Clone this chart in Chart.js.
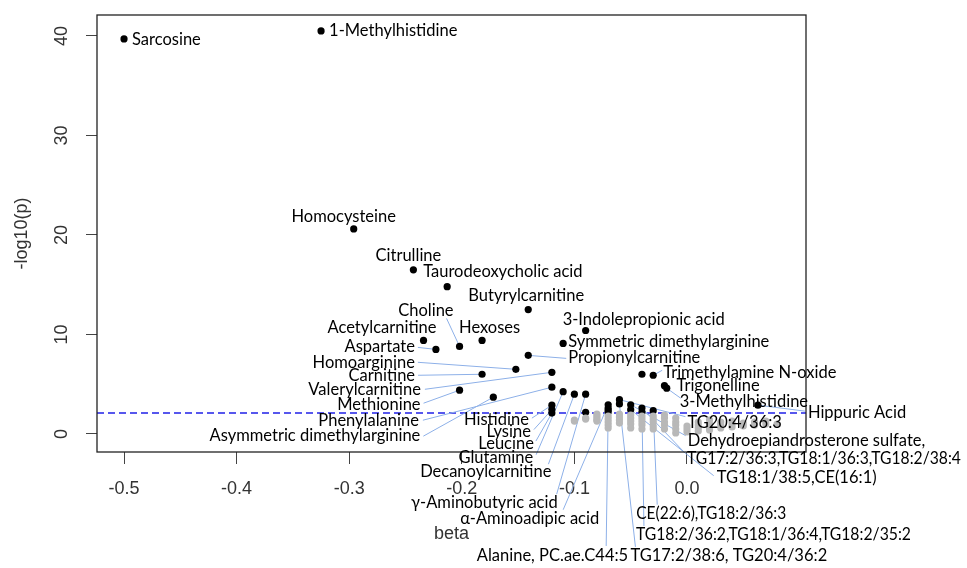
<!DOCTYPE html>
<html>
<head>
<meta charset="utf-8">
<script src="https://cdn.jsdelivr.net/npm/chart.js@4.4.0/dist/chart.umd.min.js"></script>
<style>
  html, body { margin: 0; padding: 0; background: #fff; }
</style>
</head>
<body>
<canvas id="volcano" width="967" height="568"></canvas>
<script>
// significant metabolites (black points)
const sigNames = [
  'Sarcosine', '1-Methylhistidine', 'Homocysteine', 'Citrulline',
  'Taurodeoxycholic acid', 'Butyrylcarnitine', '3-Indolepropionic acid',
  'Choline', 'Hexoses', 'Acetylcarnitine', 'Aspartate',
  'Symmetric dimethylarginine', 'Propionylcarnitine', 'Homoarginine',
  'Carnitine', 'Valerylcarnitine', 'Methionine', 'Phenylalanine',
  'Asymmetric dimethylarginine', 'Histidine', 'Lysine', 'Leucine',
  'Glutamine', 'Decanoylcarnitine', 'γ-Aminobutyric acid', 'α-Aminoadipic acid',
  'Trimethylamine N-oxide', 'Trigonelline', '3-Methylhistidine', 'Hippuric Acid',
  'TG20:4/36:3', 'Dehydroepiandrosterone sulfate,',
  'TG17:2/36:3,TG18:1/36:3,TG18:2/38:4', 'TG18:1/38:5,CE(16:1)',
  'CE(22:6),TG18:2/36:3', 'TG18:2/36:2,TG18:1/36:4,TG18:2/35:2',
  'TG17:2/38:6, TG20:4/36:2', 'Alanine, PC.ae.C44:5',
  '', '', '', ''
]
const sigBeta = [
  -0.50, -0.325, -0.296, -0.243, -0.213, -0.141, -0.090,
  -0.202, -0.182, -0.234, -0.223, -0.110, -0.141, -0.152,
  -0.182, -0.12, -0.202, -0.12, -0.172, -0.12, -0.12, -0.12,
  -0.11, -0.10, -0.09, -0.07, -0.03, -0.02, -0.018, 0.063,
  -0.06, -0.05, -0.04, -0.05, -0.03, -0.04, -0.06, -0.07,
  -0.04, -0.07, -0.07, -0.09
]
const sigLogp = [
  39.7, 40.5, 20.6, 16.5, 14.8, 12.5, 10.4,
  8.8, 9.4, 9.4, 8.5, 9.1, 7.9, 6.5,
  6.0, 6.2, 4.4, 4.7, 3.7, 2.9, 2.45, 2.1,
  4.25, 4.0, 4.0, 2.94, 5.9, 4.85, 4.6, 2.9,
  3.45, 2.94, 2.61, 2.44, 2.34, 2.21, 3.02, 2.21,
  6.0, 2.61, 2.41, 2.18
]

// non-significant metabolites (grey points)
const nsBeta = [
  -0.10, -0.10, -0.09, -0.09,
  -0.08, -0.08, -0.08, -0.08, -0.08,
  -0.07, -0.07, -0.07, -0.07, -0.07,
  -0.06, -0.06, -0.06, -0.06,
  -0.05, -0.05, -0.05, -0.05, -0.05,
  -0.04, -0.04, -0.04, -0.04, -0.04,
  -0.03, -0.03, -0.03, -0.03, -0.03,
  -0.02, -0.02, -0.02, -0.02, -0.02,
  -0.01, -0.01, -0.01, -0.01, -0.01,
  0.00, 0.00, 0.00,
  0.01, 0.01, 0.01, 0.01,
  0.02, 0.02, 0.02, 0.02,
  0.03, 0.03, 0.03,
  0.04, 0.04, 0.04,
  0.05, 0.05, 0.06, 0.06, 0.07, 0.07, 0.08
]
const nsLogp = [
  1.4, 1.3, 1.6, 1.5,
  2.0, 1.8, 1.6, 1.4, 1.3,
  1.8, 1.5, 1.2, 0.9, 0.6,
  2.0, 1.7, 1.4, 1.1,
  1.9, 1.6, 1.3, 1.0, 0.6,
  1.8, 1.5, 1.2, 0.9, 0.5,
  1.8, 1.5, 1.2, 0.8, 0.5,
  1.9, 1.6, 1.2, 0.9, 0.5,
  1.6, 1.2, 0.9, 0.5, 0.1,
  0.8, 0.5, 0.2,
  1.2, 0.9, 0.6, 0.3,
  1.4, 1.0, 0.7, 0.4,
  1.2, 0.9, 0.6,
  1.3, 1.0, 0.7,
  1.1, 0.8, 1.2, 0.9, 1.3, 1.0, 1.0
]

const xTicks = [-0.5, -0.4, -0.3, -0.2, -0.1, 0.0]
const yTicks = [0, 10, 20, 30, 40]
const threshold = 2.1

// label placement relative to its point: [dx, dy, align, leaderDx, leaderDy]
const labelPos = [
  [8, 1, 'left'], [8, 0, 'left'], [-10, -12, 'center'], [-5, -14, 'center'],
  [-24, -15, 'left'], [-2, -14, 'center'], [-23, -11, 'left'],
  [-6, -36, 'right', -13, -28], [-23, -13, 'left'], [13, -13, 'right'],
  [-21, -3, 'right', -18, -2], [5, -2, 'left'], [40, 2, 'left', 38, 3],
  [-101, -7, 'right', -98, -7], [-67, 1, 'right', -64, 1],
  [-131, 17, 'right', -127, 17], [-39, 14, 'right', -36, 13],
  [-133, 33, 'right', -129, 33], [-73, 39, 'right', -70, 39],
  [-23, 15, 'right', -20, 13], [-21, 22, 'right', -18, 20],
  [-18, 31, 'right', -16, 28], [-30, 66, 'right', -27, 63],
  [-23, 77, 'right', -26, 70], [-28, 108, 'right', -29, 100],
  [-9, 114, 'right', -45, 105],
  [10, -3, 'left', 9, -5], [12, 0, 'left'], [13, 13, 'left', 14, 10],
  [50, 8, 'left', 47, 6],
  [68, 23, 'left', 66, 17], [57, 36, 'left', 55, 31], [45, 51, 'left', 43, 45],
  [86, 68, 'left', 83, 66], [-17, 103, 'left', 4, 94], [-6, 123, 'left', 2, 114],
  [11, 152, 'left', 16, 143], [20, 144, 'right', -2, 134]
]
// the long lipid labels are squeezed to the width they take in the original
const labelMaxWidth = { 32: 274, 34: 150, 35: 275 }

const axisColor = '#333'
const tickFont = { family: 'Liberation Sans', size: 18 }

function pointPixels(chart, i) {
  const x = chart.scales.x.getPixelForValue(sigBeta[i])
  const y = chart.scales.y.getPixelForValue(sigLogp[i])
  return [x, y]
}

const annotations = {
  id: 'annotations',
  beforeDatasetsDraw(chart) {
    const { ctx, chartArea, scales } = chart
    ctx.save()
    // significance threshold
    const ty = scales.y.getPixelForValue(threshold)
    ctx.strokeStyle = '#2020e8'
    ctx.lineWidth = 1.5
    ctx.setLineDash([7, 4])
    ctx.beginPath()
    ctx.moveTo(chartArea.left, ty)
    ctx.lineTo(chartArea.right, ty)
    ctx.stroke()
    ctx.setLineDash([])
    // leader lines
    ctx.strokeStyle = '#8db0e8'
    ctx.lineWidth = 1
    labelPos.forEach((p, i) => {
      if (p[3] === undefined) return
      const [x, y] = pointPixels(chart, i)
      ctx.beginPath()
      ctx.moveTo(x, y)
      ctx.lineTo(x + p[3], y + p[4])
      ctx.stroke()
    })
    ctx.restore()
  },
  afterDatasetsDraw(chart) {
    const { ctx, chartArea, scales } = chart
    ctx.save()
    // frame
    ctx.strokeStyle = '#222'
    ctx.lineWidth = 1.3
    ctx.strokeRect(chartArea.left, chartArea.top,
      chartArea.right - chartArea.left, chartArea.bottom - chartArea.top)
    // rotated y tick labels
    ctx.fillStyle = axisColor
    ctx.font = '18px "Liberation Sans"'
    ctx.textAlign = 'center'
    ctx.textBaseline = 'middle'
    yTicks.forEach(v => {
      const y = scales.y.getPixelForValue(v)
      ctx.save()
      ctx.translate(62, y)
      ctx.rotate(-Math.PI / 2)
      ctx.fillText(String(v), 0, 0)
      ctx.restore()
    })
    // metabolite labels
    ctx.fillStyle = '#000'
    ctx.font = '16.5px Lato'
    ctx.textBaseline = 'middle'
    labelPos.forEach((p, i) => {
      const [x, y] = pointPixels(chart, i)
      ctx.textAlign = p[2]
      if (labelMaxWidth[i]) {
        ctx.fillText(sigNames[i], x + p[0], y + p[1], labelMaxWidth[i])
      } else {
        ctx.fillText(sigNames[i], x + p[0], y + p[1])
      }
    })
    ctx.restore()
  }
}

new Chart(document.getElementById('volcano').getContext('2d'), {
  type: 'scatter',
  data: {
    datasets: [
      {
        data: nsBeta.map((b, i) => ({ x: b, y: nsLogp[i] })),
        backgroundColor: '#b8b8b8',
        borderWidth: 0,
        pointRadius: 3.6
      },
      {
        data: sigBeta.map((b, i) => ({ x: b, y: sigLogp[i] })),
        backgroundColor: '#000',
        borderWidth: 0,
        pointRadius: 3.6
      }
    ]
  },
  options: {
    responsive: false,
    animation: false,
    devicePixelRatio: 1,
    layout: { padding: { top: 15, right: 161, left: 0, bottom: 0 } },
    plugins: { legend: { display: false }, tooltip: { enabled: false } },
    scales: {
      x: {
        type: 'linear',
        min: -0.524,
        max: 0.1057,
        afterBuildTicks: s => { s.ticks = xTicks.map(v => ({ value: v })) },
        afterFit: s => { s.height = 116 },
        ticks: {
          color: axisColor,
          font: tickFont,
          padding: 14,
          maxRotation: 0,
          callback: v => v.toFixed(1)
        },
        grid: { drawOnChartArea: false, tickLength: 12, color: '#444' },
        border: { display: false },
        title: {
          display: true,
          text: 'beta',
          color: axisColor,
          font: tickFont,
          padding: { top: 0, bottom: 23 }
        }
      },
      y: {
        type: 'linear',
        min: -1.81,
        max: 42.1,
        afterBuildTicks: s => { s.ticks = yTicks.map(v => ({ value: v })) },
        afterFit: s => { s.width = 97 },
        ticks: { display: false },
        grid: { drawOnChartArea: false, tickLength: 11, color: '#444' },
        border: { display: false },
        title: {
          display: true,
          text: '-log10(p)',
          color: axisColor,
          font: tickFont,
          padding: { top: 11, bottom: 0 }
        }
      }
    }
  },
  plugins: [annotations]
})
</script>
</body>
</html>
